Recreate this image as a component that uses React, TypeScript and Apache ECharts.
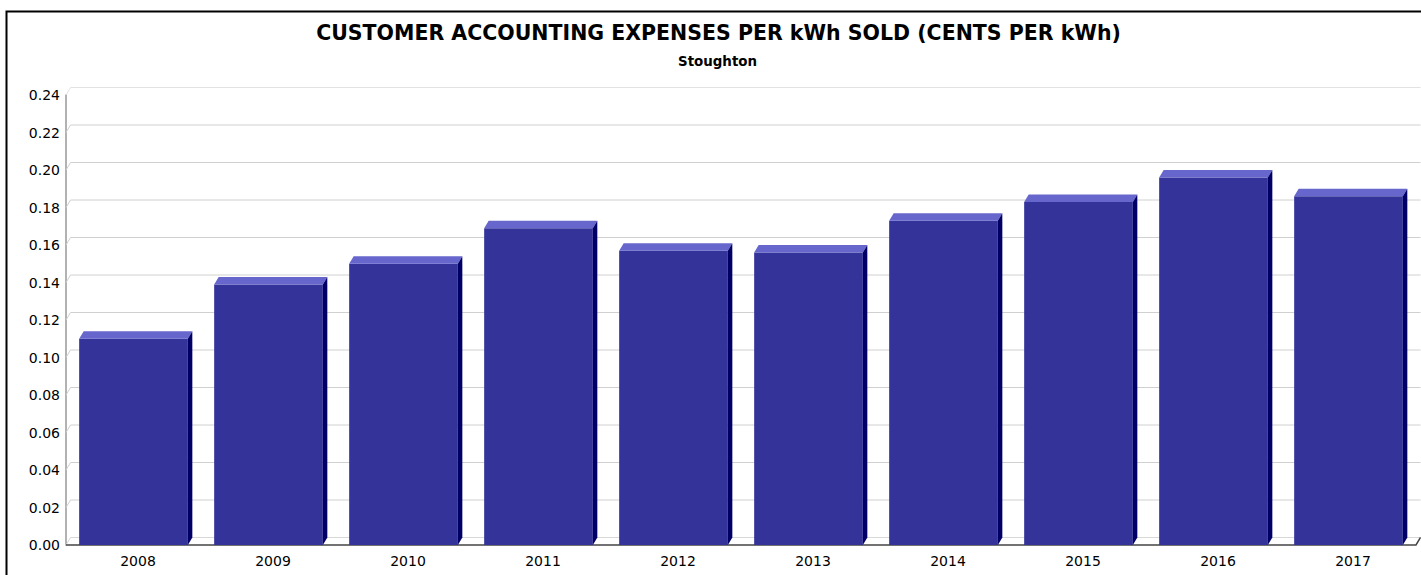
import React, { useEffect, useRef } from "react";
import * as echarts from "echarts";

const years = ["2008", "2009", "2010", "2011", "2012", "2013", "2014", "2015", "2016", "2017"];
const values = [0.110, 0.139, 0.150, 0.169, 0.157, 0.156, 0.173, 0.183, 0.196, 0.186];
const yTicks = [0, 0.02, 0.04, 0.06, 0.08, 0.1, 0.12, 0.14, 0.16, 0.18, 0.2, 0.22, 0.24];
const titleText = "CUSTOMER ACCOUNTING EXPENSES PER kWh SOLD (CENTS PER kWh)";
const subTitleText = "Stoughton";

const DX = 4.5;
const DY = 7.5;
const FONT = "'DejaVu Sans', Verdana, sans-serif";

export default function App() {
  const ref = useRef<HTMLDivElement>(null);
  useEffect(() => {
    if (!ref.current) return;
    const chart = echarts.init(ref.current, null, { renderer: "svg" });
    const option: any = {
      animation: false,
      backgroundColor: "#ffffff",
      graphic: [
        {
          type: "rect",
          shape: { x: 6.5, y: 11.5, width: 1440, height: 600 },
          style: { fill: "none", stroke: "#000", lineWidth: 2 },
          z: 0,
        },
        {
          type: "text",
          x: 718.5,
          y: 33,
          style: {
            text: titleText,
            font: `bold 20.5px ${FONT}`,
            fill: "#000",
            textAlign: "center",
            textVerticalAlign: "middle",
          },
        },
        {
          type: "text",
          x: 717.5,
          y: 61,
          style: {
            text: subTitleText,
            font: `bold 13.4px ${FONT}`,
            fill: "#000",
            textAlign: "center",
            textVerticalAlign: "middle",
          },
        },
      ],
      grid: [
        { left: 66, right: 5, top: 95, bottom: 30, containLabel: false },
        { left: 66 + DX, right: 5 - DX, top: 95 - DY, bottom: 30 + DY, containLabel: false },
      ],
      xAxis: [
        {
          type: "category",
          gridIndex: 0,
          data: years,
          axisLine: { show: false },
          axisTick: { show: false },
          axisLabel: { show: false },
          splitLine: { show: false },
        },
        {
          type: "category",
          gridIndex: 1,
          data: years,
          axisLine: { show: false },
          axisTick: { show: false },
          axisLabel: {
            show: true,
            margin: 8.5 + DY,
            color: "#000",
            fontSize: 14,
            fontFamily: FONT,
          },
          splitLine: { show: false },
        },
      ],
      yAxis: [
        {
          type: "value",
          gridIndex: 0,
          min: 0,
          max: 0.24,
          interval: 0.02,
          axisLine: { show: true, lineStyle: { color: "#999", width: 1.5 } },
          axisTick: { show: false },
          splitLine: { show: false },
          axisLabel: {
            margin: 6,
            color: "#000",
            fontSize: 14,
            fontFamily: FONT,
            formatter: (v: number) => v.toFixed(2),
          },
        },
        {
          type: "value",
          gridIndex: 1,
          min: 0,
          max: 0.24,
          interval: 0.02,
          show: false,
        },
      ],
      series: [
        {
          type: "custom",
          xAxisIndex: 0,
          yAxisIndex: 0,
          clip: false,
          silent: true,
          z: 1,
          data: [[0, 0]],
          renderItem: (params: any, api: any) => {
            const cs = params.coordSys;
            const gx = cs.x;
            const gw = cs.width;
            const children: any[] = [];
            yTicks.forEach((t, i) => {
              const y = api.coord([0, t])[1];
              if (i === 0) return;
              children.push({
                type: "polyline",
                shape: {
                  points: [
                    [gx, y],
                    [gx + DX, y - DY],
                    [gx + gw + DX, y - DY],
                  ],
                },
                style: { stroke: i === yTicks.length - 1 ? "#e2e2e2" : "#d0d0d0", lineWidth: 1, fill: "none" },
              });
            });
            const y0 = api.coord([0, 0])[1];
            children.push({
              type: "polyline",
              shape: {
                points: [
                  [gx, y0],
                  [gx + DX, y0 - DY],
                  [gx + gw + DX, y0 - DY],
                ],
              },
              style: { stroke: "#d8d8d8", lineWidth: 1, fill: "none" },
            });
            children.push({
              type: "polyline",
              shape: {
                points: [
                  [gx, y0],
                  [gx + gw, y0],
                  [gx + gw + DX, y0 - DY],
                ],
              },
              style: { stroke: "#444", lineWidth: 1.5, fill: "none" },
            });
            return { type: "group", children };
          },
        },
        {
          type: "custom",
          xAxisIndex: 0,
          yAxisIndex: 0,
          clip: false,
          z: 2,
          data: values.map((v, i) => [i, v]),
          renderItem: (params: any, api: any) => {
            const idx = api.value(0);
            const v = api.value(1);
            const base = api.coord([idx, 0]);
            const top = api.coord([idx, v]);
            const w = api.size([1, 0])[0] * 0.805;
            const x0 = top[0] - w / 2;
            const x1 = top[0] + w / 2;
            const yb = base[1];
            const yt = top[1];
            return {
              type: "group",
              children: [
                {
                  type: "rect",
                  shape: { x: x0, y: yt, width: w, height: yb - yt },
                  style: { fill: "#333399" },
                },
                {
                  type: "polygon",
                  shape: {
                    points: [
                      [x0, yt],
                      [x0 + DX, yt - DY],
                      [x1 + DX, yt - DY],
                      [x1, yt],
                    ],
                  },
                  style: { fill: "#6666cc" },
                },
                {
                  type: "polygon",
                  shape: {
                    points: [
                      [x1, yt],
                      [x1 + DX, yt - DY],
                      [x1 + DX, yb - DY],
                      [x1, yb],
                    ],
                  },
                  style: { fill: "#000066" },
                },
              ],
            };
          },
        },
      ],
    };
    chart.setOption(option);
    return () => {
      chart.dispose();
    };
  }, []);
  return (
    <div
      ref={ref}
      style={{ position: "fixed", left: 0, top: 0, width: 1421, height: 575, background: "#fff" }}
    />
  );
}
